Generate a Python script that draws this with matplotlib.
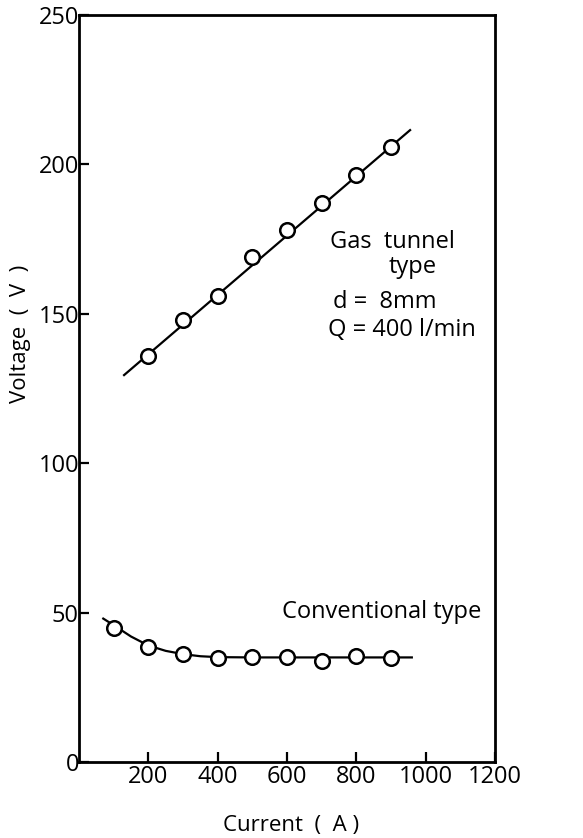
import numpy as np
import matplotlib.pyplot as plt

# measured points
current = [200, 300, 400, 500, 600, 700, 800, 900]
gas_tunnel_v = [136, 148, 156, 169, 178, 187, 196.5, 206]

conv_current = [100, 200, 300, 400, 500, 600, 700, 800, 900]
conv_v = [45, 38.6, 36.1, 34.8, 35.2, 35, 33.8, 35.4, 34.8]

# hand drawn curves through the points
gas_line_x = [130, 955]
gas_line_y = [129.5, 211.5]
conv_line_x = [70, 100, 150, 200, 250, 300, 350, 400, 500, 600, 700, 800, 960]
conv_line_y = [48, 45.8, 42, 39, 37.2, 36.1, 35.4, 35.1, 35, 35, 35, 35, 35]

plt.rcParams["font.family"] = ["Open Sans", "DejaVu Sans"]

fig = plt.figure(figsize=(5.83, 8.38), dpi=100)
ax = fig.add_axes([0.1355, 0.0907, 0.7136, 0.8913])

ax.plot(gas_line_x, gas_line_y, color="black", linewidth=1.6)
ax.plot(conv_line_x, conv_line_y, color="black", linewidth=1.6)
ax.plot(current, gas_tunnel_v, linestyle="none", marker="o", markersize=10.5,
        markerfacecolor="white", markeredgecolor="black", markeredgewidth=1.8)
ax.plot(conv_current, conv_v, linestyle="none", marker="o", markersize=10.5,
        markerfacecolor="white", markeredgecolor="black", markeredgewidth=1.8)

ax.set_xlim(0, 1200)
ax.set_ylim(0, 250)
ax.set_xticks([200, 400, 600, 800, 1000, 1200])
ax.set_yticks([0, 50, 100, 150, 200, 250])
ax.tick_params(direction="in", length=7, width=1.6, labelsize=17, pad=2)
ax.tick_params(axis="y", pad=0)

for s in ax.spines.values():
    s.set_linewidth(2)

ax.set_xlabel("Current  (  A )", fontsize=16)
ax.set_ylabel("Voltage  (  V  )", fontsize=16)
ax.xaxis.set_label_coords(0.51, -0.071)
ax.yaxis.label.set_va("center")
ax.yaxis.set_label_coords(-0.14, 0.573)

fs = 17
ax.text(724, 174, "Gas  tunnel", fontsize=fs, va="center", ha="left")
ax.text(892, 165.7, "type", fontsize=fs, va="center", ha="left")
ax.text(733, 154, "d =  8mm", fontsize=fs, va="center", ha="left")
ax.text(719, 144.7, "Q = 400 l/min", fontsize=fs, va="center", ha="left")
ax.text(585, 50.3, "Conventional type", fontsize=fs, va="center", ha="left")

plt.savefig("out.png", dpi=100)
